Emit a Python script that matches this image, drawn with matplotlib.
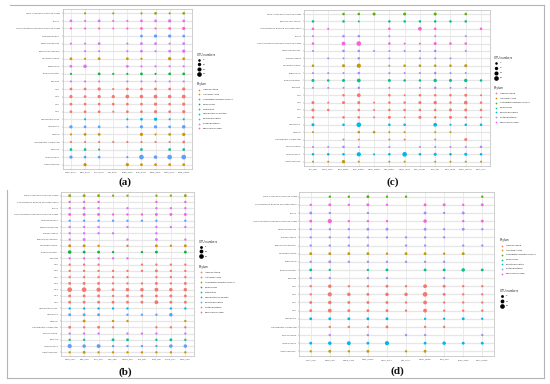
import matplotlib
matplotlib.use("Agg")
import matplotlib.pyplot as plt

W, H, DPI = 550, 384, 100

# ---------------- data ----------------
pal9 = {"Acidobacteria": "#F8766D", "Actinobacteria": "#D39200",
        "candidate division WPS-2": "#93AA00", "Chloroflexi": "#00BA38",
        "Firmicutes": "#00C19F", "Gemmatimonadetes": "#00B9E3",
        "Planctomycetes": "#619CFF", "Proteobacteria": "#DB72FB",
        "Verrucomicrobia": "#FF61C3"}
pal7 = {"Acidobacteria": "#F8766D", "Actinobacteria": "#C49A00",
        "candidate division WPS-2": "#53B400", "Chloroflexi": "#00C094",
        "Planctomycetes": "#00B6EB", "Proteobacteria": "#A58AFF",
        "Verrucomicrobia": "#FB61D7"}

# panel (a)
a_genera = ["WPS-2 genera incertae sedis", "Stella", "Spartobacteria genera incertae sedis",
            "Singulisphaera", "Rhizomicrobium", "Phenylobacterium", "Mycobacterium",
            "Legionella", "Ktedonobacter", "Kofleria", "Gp6", "Gp3", "Gp2", "Gp1",
            "Gemmatimonas", "Gemmata", "Gaiella", "Candidatus Solibacter", "Bacillus",
            "Aquisphaera", "Acidothermus"]
a_phyla = ["candidate division WPS-2", "Proteobacteria", "Verrucomicrobia", "Planctomycetes",
           "Proteobacteria", "Proteobacteria", "Actinobacteria", "Proteobacteria",
           "Chloroflexi", "Proteobacteria", "Acidobacteria", "Acidobacteria",
           "Acidobacteria", "Acidobacteria", "Gemmatimonadetes", "Planctomycetes",
           "Actinobacteria", "Acidobacteria", "Firmicutes", "Planctomycetes", "Actinobacteria"]
a_sites = ["Nsan_aum", "Kish_aum", "Shiz_aum", "Ooi_aum", "Engk_aum",
           "Koni_aum", "Piwa_aum", "Suna_aum", "Kusa_raum"]
a_values = [
    [0, 3, 0, 3, 0, 3, 6, 3, 6],
    [6, 3, 6, 3, 3, 6, 6, 9, 6],
    [3, 3, 3, 2, 3, 6, 3, 6, 9],
    [0, 0, 0, 0, 0, 6, 9, 9, 6],
    [3, 3, 6, 0, 3, 6, 6, 3, 6],
    [0, 3, 3, 0, 3, 6, 3, 6, 9],
    [6, 3, 6, 0, 6, 3, 0, 9, 6],
    [6, 11, 0, 0, 6, 3, 3, 3, 3],
    [3, 0, 6, 3, 3, 6, 3, 6, 6],
    [3, 3, 3, 0, 3, 3, 3, 3, 3],
    [6, 6, 9, 3, 6, 6, 6, 6, 9],
    [9, 6, 9, 9, 13, 11, 13, 11, 13],
    [6, 6, 6, 6, 6, 6, 9, 6, 9],
    [6, 6, 6, 3, 6, 6, 9, 6, 9],
    [0, 3, 0, 0, 3, 6, 9, 3, 3],
    [9, 6, 6, 0, 3, 9, 9, 6, 11],
    [3, 6, 6, 0, 0, 9, 3, 6, 9],
    [3, 3, 3, 3, 3, 3, 3, 3, 6],
    [6, 6, 3, 0, 0, 6, 0, 6, 6],
    [9, 6, 6, 0, 3, 20, 11, 20, 20],
    [0, 9, 0, 0, 9, 6, 6, 6, 6],
]
a_size_breaks = [5, 10, 15, 20]

# panel (b)
b_genera = ["WPS-2 genera incertae sedis", "Subdivision3 genera incertae sedis", "Stella",
            "Spartobacteria genera incertae sedis", "Singulisphaera", "Rhizomicrobium",
            "Pseudolabrys", "Phenylobacterium", "Mycobacterium", "Ktedonobacter", "Kofleria",
            "Gp7", "Gp6", "Gp5", "Gp4", "Gp3", "Gp2", "Gp1", "Gemmatimonas", "Gemmata",
            "Gaiella", "Candidatus Solibacter", "Burkholderia", "Bacillus", "Aquisphaera",
            "Acidothermus"]
b_phyla = ["candidate division WPS-2", "Verrucomicrobia", "Proteobacteria", "Verrucomicrobia",
           "Planctomycetes", "Proteobacteria", "Proteobacteria", "Proteobacteria",
           "Actinobacteria", "Chloroflexi", "Proteobacteria", "Acidobacteria", "Acidobacteria",
           "Acidobacteria", "Acidobacteria", "Acidobacteria", "Acidobacteria", "Acidobacteria",
           "Gemmatimonadetes", "Planctomycetes", "Actinobacteria", "Acidobacteria",
           "Proteobacteria", "Firmicutes", "Planctomycetes", "Actinobacteria"]
b_sites = ["Nata_spri", "Kita_spri", "Shin_spri", "Ono_spri", "Hama_spri",
           "Lua_spri", "Phot_spri", "Tama_spri", "Mina_spri"]
b_values = [
    [5, 5, 5, 3, 3, 0, 3, 3, 5],
    [3, 3, 3, 0, 0, 0, 3, 0, 3],
    [3, 5, 3, 0, 3, 0, 3, 3, 3],
    [5, 5, 5, 3, 3, 3, 5, 5, 5],
    [3, 3, 3, 3, 3, 3, 3, 0, 3],
    [3, 3, 3, 0, 3, 0, 3, 3, 3],
    [3, 3, 3, 3, 0, 0, 3, 0, 0],
    [3, 5, 0, 0, 3, 0, 5, 0, 3],
    [5, 5, 3, 0, 3, 0, 5, 3, 5],
    [8, 5, 5, 3, 0, 3, 5, 0, 5],
    [3, 3, 3, 3, 3, 0, 0, 0, 0],
    [3, 3, 3, 0, 0, 3, 3, 3, 3],
    [3, 3, 3, 3, 3, 3, 5, 3, 3],
    [3, 3, 3, 3, 3, 0, 3, 3, 3],
    [5, 5, 5, 3, 3, 3, 5, 3, 5],
    [15, 15, 12, 5, 8, 8, 10, 8, 8],
    [5, 5, 5, 3, 5, 5, 5, 5, 5],
    [5, 5, 5, 5, 5, 5, 10, 5, 5],
    [3, 3, 3, 3, 3, 0, 0, 3, 3],
    [5, 5, 5, 0, 3, 3, 3, 8, 0],
    [0, 5, 0, 3, 3, 0, 0, 0, 3],
    [5, 3, 5, 3, 0, 0, 3, 3, 3],
    [3, 3, 3, 0, 3, 3, 3, 0, 3],
    [3, 3, 0, 5, 5, 0, 3, 5, 3],
    [12, 8, 10, 3, 3, 3, 3, 8, 8],
    [3, 5, 3, 3, 3, 3, 3, 3, 3],
]
b_size_breaks = [5, 10, 15]

# panel (c)
c_genera = ["WPS-2 genera incertae sedis", "Thermosporothrix",
            "Subdivision3 genera incertae sedis", "Stella",
            "Spartobacteria genera incertae sedis", "Rhizomicrobium", "Pseudolabrys",
            "Mycobacterium", "Legionella", "Ktedonobacter", "Kofleria", "Gp6", "Gp3", "Gp2",
            "Gp1", "Gemmata", "Gaiella", "Candidatus Solibacter", "Burkholderia",
            "Aquisphaera", "Acidothermus"]
c_phyla = ["candidate division WPS-2", "Chloroflexi", "Verrucomicrobia", "Proteobacteria",
           "Verrucomicrobia", "Proteobacteria", "Proteobacteria", "Actinobacteria",
           "Proteobacteria", "Chloroflexi", "Proteobacteria", "Acidobacteria", "Acidobacteria",
           "Acidobacteria", "Acidobacteria", "Planctomycetes", "Actinobacteria",
           "Acidobacteria", "Proteobacteria", "Planctomycetes", "Actinobacteria"]
c_sites = ["Shil_spri", "Chop_ruke", "Pine_wafh", "Pine_water", "Nami_water", "Gre_water",
           "Nami_reke", "Nepl_foam", "Pine_tal", "Kuro_mae", "Sunai_water", "Nant_soil"]
c_values = [
    [0, 0, 4, 4, 6, 0, 6, 0, 6, 0, 4, 0],
    [4, 0, 4, 2, 0, 4, 4, 4, 4, 4, 4, 0],
    [4, 2, 0, 0, 0, 4, 0, 10, 4, 0, 0, 4],
    [2, 0, 4, 4, 0, 2, 0, 0, 2, 0, 2, 0],
    [4, 0, 10, 16, 0, 4, 2, 2, 6, 4, 4, 0],
    [2, 0, 4, 4, 2, 2, 2, 2, 4, 0, 2, 0],
    [0, 2, 2, 4, 0, 2, 0, 2, 2, 2, 0, 0],
    [4, 0, 6, 13, 0, 2, 4, 4, 4, 4, 6, 0],
    [2, 2, 2, 4, 0, 2, 2, 2, 4, 2, 2, 0],
    [6, 4, 6, 10, 0, 6, 4, 4, 8, 6, 8, 4],
    [2, 2, 2, 4, 0, 2, 0, 2, 4, 2, 2, 0],
    [0, 0, 4, 10, 0, 4, 2, 4, 4, 4, 6, 2],
    [6, 2, 6, 6, 2, 4, 4, 6, 8, 4, 10, 4],
    [6, 4, 0, 4, 2, 4, 4, 4, 4, 6, 6, 4],
    [4, 0, 4, 4, 2, 6, 2, 6, 4, 6, 4, 2],
    [6, 0, 4, 16, 0, 4, 4, 0, 10, 2, 4, 4],
    [2, 0, 0, 4, 4, 2, 2, 0, 2, 2, 0, 0],
    [0, 0, 2, 2, 0, 2, 2, 0, 2, 0, 6, 0],
    [2, 2, 4, 2, 0, 2, 0, 2, 2, 2, 2, 4],
    [4, 4, 4, 13, 2, 4, 16, 4, 6, 4, 6, 4],
    [2, 2, 8, 2, 0, 2, 2, 0, 2, 2, 2, 2],
]
c_size_breaks = [4, 8, 12, 16]

# panel (d)
d_genera = ["WPS-2 genera incertae sedis", "Subdivision3 genera incertae sedis", "Stella",
            "Spartobacteria genera incertae sedis", "Rhizomicrobium", "Pseudolabrys",
            "Phenylobacterium", "Mycobacterium", "Legionella", "Ktedonobacter", "Kofleria",
            "Gp6", "Gp3", "Gp2", "Gp1", "Gemmata", "Candidatus Solibacter", "Burkholderia",
            "Aquisphaera", "Acidothermus"]
d_phyla = ["candidate division WPS-2", "Verrucomicrobia", "Proteobacteria", "Verrucomicrobia",
           "Proteobacteria", "Proteobacteria", "Proteobacteria", "Actinobacteria",
           "Proteobacteria", "Chloroflexi", "Proteobacteria", "Acidobacteria", "Acidobacteria",
           "Acidobacteria", "Acidobacteria", "Planctomycetes", "Acidobacteria",
           "Proteobacteria", "Planctomycetes", "Actinobacteria"]
d_sites = ["Nont_spri", "Nate_spri", "Kanai_sato", "Gray_moss", "Hayo_sato",
           "Oto_sute", "Nami_foam", "Pine_soil", "Pnuo_sute", "Nant_moss"]
d_values = [
    [0, 3, 3, 5, 3, 3, 0, 0, 0, 3],
    [3, 5, 3, 5, 3, 0, 5, 5, 3, 5],
    [5, 3, 0, 3, 0, 0, 5, 3, 5, 0],
    [5, 12, 3, 3, 3, 0, 8, 0, 3, 5],
    [3, 3, 3, 5, 5, 0, 5, 3, 5, 3],
    [3, 3, 3, 3, 3, 3, 3, 3, 0, 0],
    [3, 3, 3, 3, 0, 3, 3, 0, 3, 3],
    [5, 5, 5, 5, 3, 5, 5, 3, 5, 0],
    [3, 5, 3, 3, 3, 3, 3, 3, 0, 0],
    [5, 3, 0, 3, 5, 0, 5, 5, 8, 5],
    [3, 3, 0, 3, 3, 0, 0, 3, 0, 0],
    [3, 8, 3, 3, 5, 3, 10, 5, 3, 3],
    [3, 12, 8, 5, 8, 8, 15, 5, 3, 3],
    [5, 8, 5, 5, 5, 3, 10, 3, 3, 3],
    [5, 10, 5, 5, 5, 3, 10, 3, 3, 3],
    [5, 5, 5, 5, 5, 0, 3, 3, 5, 3],
    [0, 3, 3, 3, 5, 0, 3, 3, 0, 0],
    [0, 3, 0, 3, 0, 3, 3, 0, 0, 3],
    [5, 8, 10, 5, 12, 0, 5, 8, 5, 5],
    [3, 5, 3, 5, 0, 3, 5, 0, 0, 0],
]
d_size_breaks = [5, 10, 15]

# ---------------- drawing ----------------
fig = plt.figure(figsize=(W / DPI, H / DPI), dpi=DPI)
fig.patch.set_facecolor("white")

def size_pt2(v, vmax):
    d_px = (1.5 + 20.0 * v / vmax) ** 0.5
    return (d_px * 72.0 / DPI) ** 2

def panel(rect, genera, phyla, values, sites, pal, vmax):
    l, t, r, b = rect
    ax = fig.add_axes([l / W, 1 - b / H, (r - l) / W, (b - t) / H])
    nr, nc = len(genera), len(sites)
    xs, ys, ss, cs = [], [], [], []
    for i in range(nr):
        for j in range(nc):
            v = values[i][j]
            if v > 0:
                xs.append(j)
                ys.append(nr - 1 - i)
                ss.append(size_pt2(v, vmax))
                cs.append(pal[phyla[i]])
    ax.scatter(xs, ys, s=ss, c=cs, linewidths=0, zorder=3)
    ax.set_xlim(-0.6, nc - 1 + 0.6)
    ax.set_ylim(-0.6, nr - 1 + 0.6)
    ax.set_xticks(range(nc))
    ax.set_xticklabels(sites, fontsize=1.6, color="#4d4d4d")
    ax.set_yticks(range(nr))
    ax.set_yticklabels(genera[::-1], fontsize=1.7, color="#4d4d4d")
    ax.tick_params(length=1.0, width=0.3, pad=0.8, color="#777777")
    ax.set_axisbelow(True)
    ax.grid(axis="y", color="#e6e6e6", linewidth=0.9)
    ax.grid(axis="x", color="#e3e3e3", linewidth=0.5)
    for sp in ax.spines.values():
        sp.set_color("#bbbbbb")
        sp.set_linewidth(0.5)
    return ax

panel((62.5, 8.8, 192.2, 169.2), a_genera, a_phyla, a_values, a_sites, pal9, 20)
panel((61.0, 191.9, 194.0, 356.1), b_genera, b_phyla, b_values, b_sites, pal9, 15)
panel((303.8, 9.6, 490.2, 166.1), c_genera, c_phyla, c_values, c_sites, pal7, 16)
panel((299.3, 191.8, 493.7, 356.2), d_genera, d_phyla, d_values, d_sites, pal7, 15)

# overlay for frames, legends and panel letters
ov = fig.add_axes([0, 0, 1, 1])
ov.set_xlim(0, W)
ov.set_ylim(H, 0)
ov.axis("off")
ov.patch.set_alpha(0)

fc = "#b5b5b5"
ov.plot([10, 544], [5, 5], color=fc, lw=0.8)
ov.plot([544, 544], [5, 378], color=fc, lw=0.8)
ov.plot([7, 544], [378, 378], color=fc, lw=0.8)
ov.plot([7, 7], [190, 378], color=fc, lw=0.8)

def size_legend(x, y, breaks, vmax, step):
    ov.text(x, y, "OTU numbers", fontsize=1.9, va="center", ha="left", color="#222222")
    for k, bv in enumerate(breaks):
        yy = y + step * (k + 1)
        ov.scatter([x + 2.2], [yy], s=size_pt2(bv, vmax), c="black", linewidths=0)
        ov.text(x + 6, yy, str(bv), fontsize=1.7, va="center", ha="left", color="#222222")

def phylum_legend(x, y, pal, step):
    ov.text(x, y, "Phylum", fontsize=1.9, va="center", ha="left", color="#222222")
    for k, (name, col) in enumerate(pal.items()):
        yy = y + 5.5 + step * k
        ov.scatter([x + 2.2], [yy], s=size_pt2(1.5, 20), c=col, linewidths=0)
        ov.text(x + 6, yy, name, fontsize=1.7, va="center", ha="left", color="#222222")

size_legend(197, 55, a_size_breaks, 20, 4.7)
phylum_legend(197, 84, pal9, 4.87)
size_legend(199, 241.7, b_size_breaks, 15, 4.8)
phylum_legend(199, 266.7, pal9, 5.0)
size_legend(494, 58, c_size_breaks, 16, 4.9)
phylum_legend(494, 87.7, pal7, 4.8)
phylum_legend(500, 240, pal7, 4.67)
size_legend(500, 291, d_size_breaks, 15, 5.0)

for lab, (x, y) in zip(["(a)", "(b)", "(c)", "(d)"],
                       [(125, 182), (125, 372), (393, 182), (397, 371)]):
    ov.text(x, y, lab, fontsize=8, fontweight="bold", family="Liberation Serif",
            ha="center", va="center", color="#111111")

fig.savefig("out.png", dpi=DPI, facecolor="white")
